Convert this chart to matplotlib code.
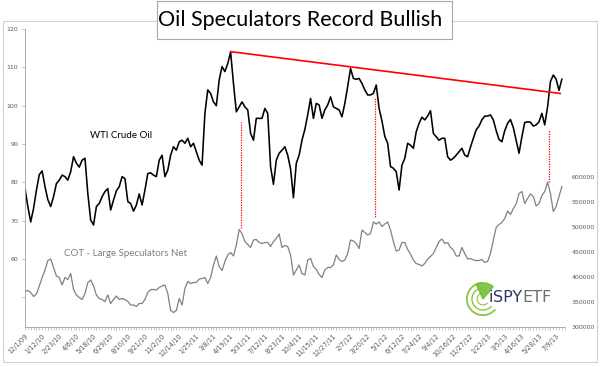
import numpy as np
import matplotlib.pyplot as plt
from matplotlib.patches import Rectangle, Arc, Wedge

# weekly category index (12/1/09 ... mid 7/13)
oil = [78.4, 73.7, 69.7, 73.2, 78.0, 82.0, 83.0, 78.9, 75.5, 73.7,
       76.3, 79.7, 80.6, 81.9, 81.5, 80.6, 82.8, 86.7, 85.0, 84.0,
       85.8, 86.3, 77.1, 70.2, 68.9, 73.7, 74.5, 76.3, 77.6, 78.4,
       72.8, 75.4, 77.8, 78.9, 81.5, 81.0, 75.0, 74.5, 72.5, 74.1,
       77.0, 74.1, 78.0, 82.3, 82.5, 81.9, 81.5, 85.8, 87.1, 81.5,
       83.2, 87.1, 89.3, 88.4, 90.6, 91.0, 90.2, 91.5, 89.3, 90.2,
       88.0, 85.8, 84.5, 98.0, 104.1, 103.2, 101.0, 100.0, 106.7, 110.2,
       108.9, 111.0, 114.0, 105.8, 98.4, 99.7, 101.0, 99.7, 98.9, 92.8,
       91.0, 96.7, 96.7, 96.7, 99.3, 98.0, 84.1, 79.5, 85.8, 87.6,
       88.4, 89.3, 87.1, 83.5, 76.0, 85.0, 87.1, 91.0, 93.8, 97.6,
       101.9, 96.7, 100.6, 100.2, 96.7, 98.9, 100.2, 102.3, 99.7, 99.3,
       98.9, 97.1, 100.6, 105.0, 109.7, 107.1, 106.9, 107.1, 105.8, 104.1,
       102.8, 102.8, 103.2, 105.4, 99.3, 96.0, 92.0, 90.2, 84.1, 83.7,
       82.8, 78.0, 84.5, 86.3, 90.2, 89.7, 88.9, 93.2, 95.4, 97.0,
       96.3, 97.3, 98.7, 92.8, 91.9, 91.0, 91.5, 91.5, 86.7, 85.8,
       86.3, 87.1, 88.0, 88.9, 87.1, 86.7, 89.2, 91.5, 93.7, 94.7,
       96.3, 97.3, 97.3, 97.6, 96.3, 93.5, 91.2, 90.6, 93.5, 95.4,
       96.4, 94.3, 91.0, 87.6, 91.9, 95.6, 95.8, 95.7, 94.7, 95.0,
       95.8, 98.0, 95.0, 99.7, 106.3, 108.0, 106.9, 104.0, 106.9]

cot = [371000, 373000, 369000, 361000, 366000, 382000, 399000, 414000, 433000, 436000,
       419000, 402000, 399000, 384000, 399000, 395000, 407000, 375000, 364000, 359000,
       355000, 367000, 389000, 394000, 382000, 364000, 357000, 355000, 351000, 364000,
       347000, 355000, 362000, 355000, 357000, 355000, 351000, 344000, 344000, 341000,
       347000, 347000, 355000, 369000, 375000, 375000, 374000, 379000, 382000, 384000,
       367000, 333000, 329000, 333000, 357000, 344000, 377000, 391000, 387000, 389000,
       389000, 396000, 397000, 399000, 387000, 399000, 424000, 442000, 421000, 413000,
       431000, 444000, 449000, 442000, 464000, 495000, 487000, 471000, 465000, 459000,
       474000, 475000, 469000, 467000, 469000, 469000, 461000, 471000, 477000, 486000,
       459000, 463000, 461000, 444000, 404000, 414000, 424000, 407000, 404000, 434000,
       437000, 421000, 415000, 405000, 399000, 414000, 419000, 419000, 424000, 444000,
       435000, 431000, 434000, 447000, 474000, 472000, 467000, 457000, 494000, 489000,
       484000, 487000, 510000, 506000, 510000, 501000, 506000, 510000, 494000, 471000,
       452000, 454000, 469000, 469000, 455000, 446000, 434000, 427000, 425000, 422000,
       427000, 436000, 441000, 447000, 459000, 471000, 476000, 467000, 469000, 459000,
       454000, 442000, 442000, 459000, 447000, 436000, 437000, 434000, 433000, 433000,
       435000, 429000, 431000, 447000, 474000, 499000, 505000, 509000, 517000, 532000,
       525000, 537000, 546000, 567000, 571000, 547000, 557000, 566000, 561000, 542000,
       547000, 563000, 571000, 590000, 567000, 531000, 541000, 561000, 581000]

date_labels = ["12/1/09", "1/12/10", "2/23/10", "4/6/10", "5/18/10", "6/29/10",
               "8/10/10", "9/21/10", "11/2/10", "12/14/10", "1/25/11", "3/8/11",
               "4/19/11", "5/31/11", "7/12/11", "8/23/11", "10/4/11", "11/15/11",
               "12/27/11", "2/7/12", "3/20/12", "5/1/12", "6/12/12", "7/24/12",
               "9/4/12", "10/16/12", "11/27/12", "1/22/13", "3/5/13", "4/16/13",
               "5/28/13", "7/9/13"]

# resistance line across the oil highs
trend_x = [72.0, 187.4]
trend_y = [114.1, 103.2]

# dotted links oil high -> COT peak (index, low, high on oil scale)
link_x = [75.5, 122.6, 183.5]
link_lo = [68.0, 71.0, 80.2]
link_hi = [95.8, 101.9, 93.7]

GRAY_TXT = "#595959"

fig = plt.figure(figsize=(6, 3.67), dpi=100)
fig.patch.set_facecolor("white")

# outer frame and title box
fig.patches.append(Rectangle((3 / 600, 1 - 362 / 367), 594 / 600, 341 / 367,
                             transform=fig.transFigure, fill=False,
                             edgecolor="#d0d0d0", linewidth=0.8))
fig.patches.append(Rectangle((157 / 600, 1 - 39 / 367), 295 / 600, 38 / 367,
                             transform=fig.transFigure, facecolor="white",
                             edgecolor="#a6a6a6", linewidth=0.8, zorder=5))
fig.text(0.5, 1 - 20 / 367, "Oil Speculators Record Bullish", ha="center",
         va="center", fontsize=15.5, family="Lato", color="black", zorder=6)

rect = [25 / 600, 1 - 327 / 367, 540 / 600, 298 / 367]
ax_cot = fig.add_axes(rect)
ax_oil = ax_cot.twinx()

x = np.arange(len(oil))

ax_cot.plot(np.arange(len(cot)), cot, color="#808080", linewidth=0.9)
ax_cot.set_ylim(300000, 896000)
ax_cot.set_yticks(np.arange(300000, 600001, 50000))
ax_cot.yaxis.tick_right()
ax_cot.tick_params(axis="y", length=0, pad=5, labelsize=4.5, labelcolor=GRAY_TXT)

ax_oil.plot(x, oil, color="black", linewidth=1.15)
ax_oil.plot(trend_x, trend_y, color="red", linewidth=1.2)
ax_oil.vlines(link_x, link_lo, link_hi, colors="red", linestyles=(0, (1, 1)),
              linewidth=0.9)
ax_oil.set_ylim(42.3, 120)
ax_oil.set_yticks(np.arange(50, 121, 10))
ax_oil.set_yticklabels([""] + [str(v) for v in range(60, 121, 10)])
ax_oil.yaxis.tick_left()
ax_oil.tick_params(axis="y", length=2, width=0.5, color="#a0a0a0", pad=3,
                   labelsize=4.5, labelcolor=GRAY_TXT)

ax_cot.set_xlim(0, 189.1)
ax_cot.set_xticks(np.arange(0, 6 * len(date_labels), 6))
ax_cot.set_xticklabels(date_labels, rotation=45, ha="right",
                       rotation_mode="anchor")
ax_cot.set_xticks(np.arange(0, 190), minor=True)
ax_cot.tick_params(axis="x", which="both", length=2, width=0.4, color="#a0a0a0",
                   labelsize=4.8, labelcolor=GRAY_TXT, pad=2)

for a in (ax_cot, ax_oil):
    for s in a.spines.values():
        s.set_visible(False)
ax_cot.spines["bottom"].set_visible(True)
ax_cot.spines["bottom"].set_color("#a0a0a0")
ax_cot.spines["bottom"].set_linewidth(0.6)
ax_oil.spines["left"].set_visible(True)
ax_oil.spines["left"].set_color("#a0a0a0")
ax_oil.spines["left"].set_linewidth(0.6)

fig.text(121 / 600, 1 - 136 / 367, "WTI Crude Oil", ha="center", va="center",
         fontsize=7, family="Lato", color="black")
fig.text(125 / 600, 1 - 254 / 367, "COT - Large Speculators Net", ha="center",
         va="center", fontsize=7, family="Lato", color="#7f7f7f")

# iSPYETF logo
logo = fig.add_axes([466 / 600, 1 - 316 / 367, 34 / 600, 34 / 367])
logo.set_xlim(-1, 1)
logo.set_ylim(-1, 1)
logo.set_aspect("equal")
logo.axis("off")
for r, w in ((0.95, 1.3), (0.65, 1.0), (0.35, 0.8)):
    logo.add_patch(Arc((0.0, 0.0), 2 * r, 2 * r, theta1=95, theta2=320,
                       color="#8cc63f", linewidth=w))
logo.add_patch(Wedge((0.0, 0.0), 0.95, 50, 115, color="#6abf2e", alpha=0.85))

renderer = fig.canvas.get_renderer()
tx = 489 / 600
for part, col in (("i", "#3d3d3d"), ("SPY", "#2b3a67"), ("ETF", "#6d6d6d")):
    t = fig.text(tx, 1 - 298 / 367, part, ha="left", va="center", fontsize=11.5,
                 family="DejaVu Sans", color=col)
    bb = t.get_window_extent(renderer)
    tx += bb.width / fig.bbox.width

fig.savefig("out.png", dpi=100, facecolor="white")
